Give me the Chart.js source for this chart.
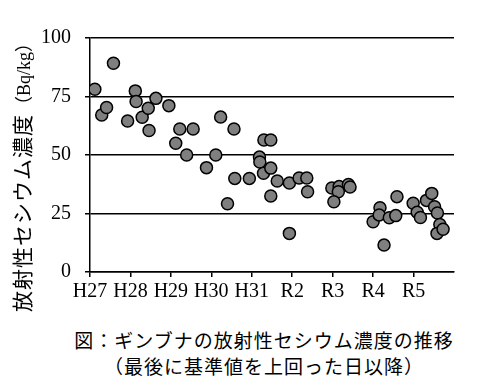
<!DOCTYPE html>
<html lang="ja">
<head>
<meta charset="utf-8">
<script src="https://cdn.jsdelivr.net/npm/chart.js@4"></script>
<style>
  body { margin: 0; background: #fff; }
  #wrap { position: relative; width: 480px; height: 388px; overflow: hidden; }
  #chart { position: absolute; left: 0; top: 0; }
  #ytitle {
    position: absolute; left: 22px; top: 173px; white-space: nowrap;
    transform: translate(-50%, -50%) rotate(-90deg);
    font-family: "Noto Sans CJK JP", sans-serif; font-size: 21px; letter-spacing: 1px;
    color: #000; line-height: 1;
  }
  #ytitle .paren { font-size: 18px; letter-spacing: 0; }
  #ytitle .unit { font-family: "Liberation Serif", serif; font-size: 18px; letter-spacing: 0; }
  .caption {
    position: absolute; left: 264px; transform: translateX(-50%); white-space: nowrap;
    font-family: "Noto Sans CJK JP", sans-serif; font-size: 19px; letter-spacing: 1px;
    line-height: 26px; color: #000;
  }
</style>
</head>
<body>
<div id="wrap">
  <canvas id="chart" width="480" height="320"></canvas>
  <div id="ytitle">放射性セシウム濃度<span class="paren">（</span><span class="unit">Bq/kg</span><span class="paren">）</span></div>
  <div class="caption" style="top:327px">図：ギンブナの放射性セシウム濃度の推移</div>
  <div class="caption" style="top:353px">（最後に基準値を上回った日以降）</div>
</div>
<script>
// Fiscal years on the x axis (0 = H27)
const yearLabels = ['H27', 'H28', 'H29', 'H30', 'H31', 'R2', 'R3', 'R4', 'R5'];
const yTicks = [0, 25, 50, 75, 100];

// Sample date (in years since start of H27) and concentration (Bq/kg)
const sampleTimes = [
    0.12, 0.58, 0.29, 0.41, 0.93, 1.12, 1.14, 1.29, 1.44, 1.46,
    1.63, 1.95, 2.12, 2.22, 2.55, 2.39, 2.88, 3.11, 3.23, 3.40,
    3.56, 3.58, 3.94, 4.30, 4.47, 4.19, 4.20, 4.29, 4.47, 4.63,
    4.47, 4.93, 4.93, 5.17, 5.36, 5.38, 5.98, 6.16, 6.14, 6.39,
    6.43, 6.03, 7.00, 7.17, 7.15, 7.27, 7.40, 7.56, 7.59, 7.99,
    8.09, 8.17, 8.32, 8.45, 8.52, 8.59, 8.65, 8.58, 8.73
];
const cesium = [
    78.1, 89.2, 67.1, 70.3, 64.5, 77.4, 72.9, 66.1, 70.0, 60.5,
    74.2, 71.1, 55.0, 61.1, 61.1, 50.0, 44.6, 50.0, 66.2, 29.2,
    61.1, 40.0, 40.0, 56.4, 56.4, 49.1, 47.0, 42.2, 44.4, 38.9,
    32.5, 38.0, 16.5, 40.2, 40.2, 34.3, 35.9, 36.5, 34.3, 37.4,
    36.3, 30.0, 21.5, 27.5, 24.4, 11.5, 23.2, 24.1, 32.2, 29.4,
    25.5, 23.3, 30.6, 33.6, 27.9, 25.2, 20.3, 16.5, 18.3
];

document.addEventListener('DOMContentLoaded', function() {
    const points = sampleTimes.map((t, i) => ({ x: t, y: cesium[i] }));
    const tickFont = { family: '"Liberation Serif", serif', size: 20 };

    new Chart(document.getElementById('chart'), {
        type: 'scatter',
        data: {
            datasets: [{
                data: points,
                pointRadius: 6,
                pointHoverRadius: 6,
                pointBackgroundColor: '#7f7f7f',
                pointBorderColor: '#000',
                pointBorderWidth: 1.5
            }]
        },
        options: {
            responsive: false,
            animation: false,
            layout: { padding: { top: 38, right: 26, left: 0, bottom: 0 } },
            plugins: { legend: { display: false }, tooltip: { enabled: false } },
            scales: {
                x: {
                    type: 'linear',
                    min: 0,
                    max: 9,
                    afterFit: scale => { scale.height = 48; },
                    afterBuildTicks: scale => {
                        scale.ticks = yearLabels.map((_, i) => ({ value: i }));
                    },
                    ticks: {
                        color: '#000',
                        font: tickFont,
                        padding: 3,
                        maxRotation: 0,
                        autoSkip: false,
                        callback: v => yearLabels[v] || ''
                    },
                    grid: { drawOnChartArea: false, tickLength: 5, color: '#000', lineWidth: 1.5 },
                    border: { color: '#000', width: 1.5 }
                },
                y: {
                    min: 0,
                    max: 100,
                    afterFit: scale => { scale.width = 90; },
                    afterBuildTicks: scale => {
                        scale.ticks = yTicks.map(v => ({ value: v }));
                    },
                    ticks: { color: '#000', font: tickFont, padding: 14 },
                    grid: { color: '#000', lineWidth: 1.5, tickLength: 5 },
                    border: { color: '#000', width: 1.5 }
                }
            }
        }
    });
});
</script>
</body>
</html>
